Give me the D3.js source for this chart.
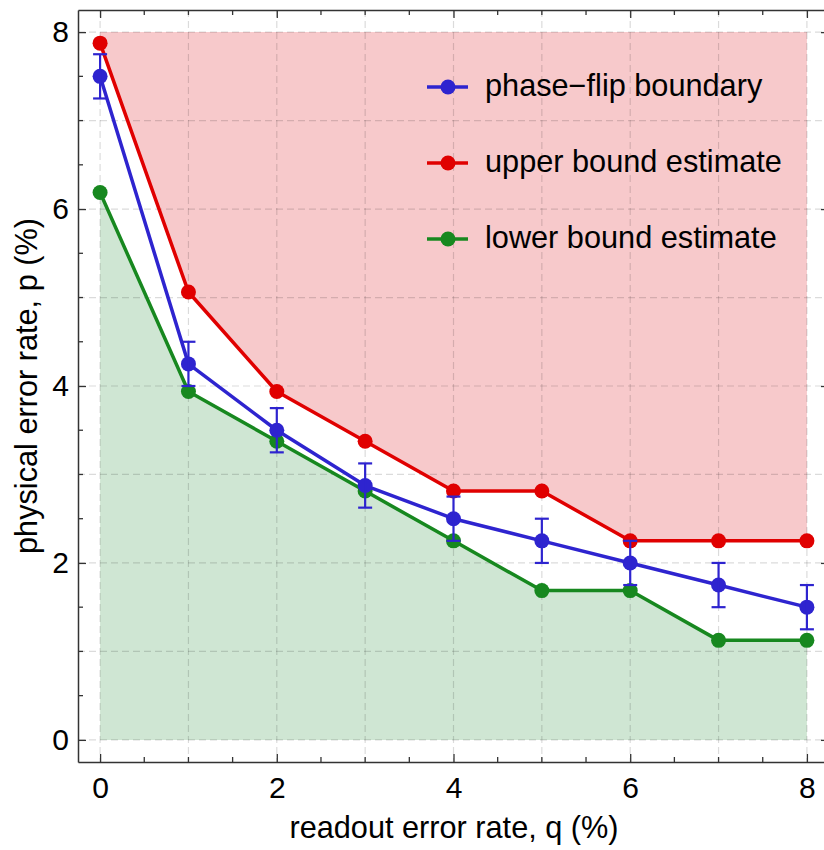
<!DOCTYPE html>
<html>
<head>
<meta charset="utf-8">
<script src="https://cdn.jsdelivr.net/npm/d3@7"></script>
<style>
  body { margin: 0; background: #fff; }
  text { font-family: "Liberation Sans", Arial, sans-serif; fill: #000; }
</style>
</head>
<body>
<div class="chart"></div>
<script>
var svgWidth = 824;
var svgHeight = 850;

// readout error rate q (%)
var readoutRates = [0, 1, 2, 3, 4, 5, 6, 7, 8];
// physical error rate p (%) for each series
var phaseFlip = [7.5, 4.25, 3.5, 2.875, 2.5, 2.25, 2.0, 1.75, 1.5];
var phaseFlipErr = [0.25, 0.25, 0.25, 0.25, 0.25, 0.25, 0.25, 0.25, 0.25];
var upperBound = [7.875, 5.0625, 3.9375, 3.375, 2.8125, 2.8125, 2.25, 2.25, 2.25];
var lowerBound = [6.1875, 3.9375, 3.375, 2.8125, 2.25, 1.6875, 1.6875, 1.125, 1.125];

var seriesNames = ["phase\u2212flip boundary", "upper bound estimate", "lower bound estimate"];
var seriesColors = ["#2e24cf", "#e00000", "#17881f"];

var majorTicks = [0, 2, 4, 6, 8];
var minorTicks = [0.5, 1, 1.5, 2.5, 3, 3.5, 4.5, 5, 5.5, 6.5, 7, 7.5];
var gridTicks = [0, 1, 2, 3, 4, 5, 6, 7, 8];
var pMax = 8;

var plot = { left: 78, right: 829, top: 10, bottom: 762 };

var svg = d3.select(".chart")
  .append("svg")
  .attr("width", svgWidth)
  .attr("height", svgHeight);

var xScale = d3.scaleLinear()
  .domain([-0.25, 8.25])
  .range([plot.left, plot.right]);

var yScale = d3.scaleLinear()
  .domain([-0.25, 8.25])
  .range([plot.bottom, plot.top]);

var upperData = readoutRates.map(function(q, i) { return { q: q, p: upperBound[i] }; });
var lowerData = readoutRates.map(function(q, i) { return { q: q, p: lowerBound[i] }; });
var flipData = readoutRates.map(function(q, i) { return { q: q, p: phaseFlip[i], e: phaseFlipErr[i] }; });

// shaded regions
svg.append("path")
  .datum(upperData)
  .attr("fill", "#f7c9cb")
  .attr("d", d3.area()
    .x(function(d) { return xScale(d.q); })
    .y0(yScale(pMax))
    .y1(function(d) { return yScale(d.p); }));

svg.append("path")
  .datum(lowerData)
  .attr("fill", "#cfe6d3")
  .attr("d", d3.area()
    .x(function(d) { return xScale(d.q); })
    .y0(yScale(0))
    .y1(function(d) { return yScale(d.p); }));

// dashed grid
var grid = svg.append("g")
  .attr("stroke", "rgba(0,0,0,0.14)")
  .attr("stroke-width", 1.2)
  .attr("stroke-dasharray", "7,4");

grid.selectAll(".vgrid")
  .data(gridTicks)
  .enter().append("line")
    .attr("x1", function(d) { return xScale(d); })
    .attr("x2", function(d) { return xScale(d); })
    .attr("y1", plot.top)
    .attr("y2", plot.bottom);

grid.selectAll(".hgrid")
  .data(gridTicks)
  .enter().append("line")
    .attr("y1", function(d) { return yScale(d); })
    .attr("y2", function(d) { return yScale(d); })
    .attr("x1", plot.left)
    .attr("x2", plot.right);

// axes on all four sides, ticks pointing inward
function styleAxis(g) {
  g.select(".domain").attr("stroke", "#333").attr("stroke-width", 1.5);
  g.selectAll(".tick line").attr("stroke", "#333").attr("stroke-width", 1.3);
  g.selectAll("text").style("font-size", "30px").attr("fill", "#000");
}

var bottomAxis = d3.axisBottom(xScale).tickValues(majorTicks).tickSizeInner(-8).tickSizeOuter(0).tickPadding(15);
var leftAxis = d3.axisLeft(yScale).tickValues(majorTicks).tickSizeInner(-8).tickSizeOuter(0).tickPadding(9);

svg.append("g")
  .attr("transform", "translate(0," + plot.bottom + ")")
  .call(bottomAxis)
  .call(styleAxis);

svg.append("g")
  .attr("transform", "translate(" + plot.left + ",0)")
  .call(leftAxis)
  .call(styleAxis);

svg.append("g")
  .attr("transform", "translate(0," + plot.top + ")")
  .call(d3.axisTop(xScale).tickValues(majorTicks).tickSizeInner(-8).tickSizeOuter(0).tickFormat(""))
  .call(styleAxis);

svg.append("g")
  .attr("transform", "translate(" + plot.right + ",0)")
  .call(d3.axisRight(yScale).tickValues(majorTicks).tickSizeInner(-8).tickSizeOuter(0).tickFormat(""))
  .call(styleAxis);

// minor ticks
var minor = svg.append("g").attr("stroke", "#333").attr("stroke-width", 1.3);
minor.selectAll(".mb").data(minorTicks).enter().append("line")
  .attr("x1", function(d) { return xScale(d); }).attr("x2", function(d) { return xScale(d); })
  .attr("y1", plot.bottom).attr("y2", plot.bottom - 5);
minor.selectAll(".mt").data(minorTicks).enter().append("line")
  .attr("x1", function(d) { return xScale(d); }).attr("x2", function(d) { return xScale(d); })
  .attr("y1", plot.top).attr("y2", plot.top + 5);
minor.selectAll(".ml").data(minorTicks).enter().append("line")
  .attr("y1", function(d) { return yScale(d); }).attr("y2", function(d) { return yScale(d); })
  .attr("x1", plot.left).attr("x2", plot.left + 5);
minor.selectAll(".mr").data(minorTicks).enter().append("line")
  .attr("y1", function(d) { return yScale(d); }).attr("y2", function(d) { return yScale(d); })
  .attr("x1", plot.right).attr("x2", plot.right - 5);

// series lines + markers
var line = d3.line()
  .x(function(d) { return xScale(d.q); })
  .y(function(d) { return yScale(d.p); });

function drawSeries(data, color) {
  svg.append("path")
    .datum(data)
    .attr("fill", "none")
    .attr("stroke", color)
    .attr("stroke-width", 3.5)
    .attr("stroke-linejoin", "round")
    .attr("d", line);

  svg.append("g").selectAll("circle")
    .data(data)
    .enter().append("circle")
      .attr("cx", function(d) { return xScale(d.q); })
      .attr("cy", function(d) { return yScale(d.p); })
      .attr("r", 7.5)
      .attr("fill", color);
}

drawSeries(lowerData, seriesColors[2]);
drawSeries(upperData, seriesColors[1]);
drawSeries(flipData, seriesColors[0]);

// error bars on the phase-flip boundary
var errG = svg.append("g")
  .attr("stroke", seriesColors[0])
  .attr("stroke-width", 2.2);

errG.selectAll(".ev").data(flipData).enter().append("line")
  .attr("x1", function(d) { return xScale(d.q); })
  .attr("x2", function(d) { return xScale(d.q); })
  .attr("y1", function(d) { return yScale(d.p - d.e); })
  .attr("y2", function(d) { return yScale(d.p + d.e); });

errG.selectAll(".et").data(flipData).enter().append("line")
  .attr("x1", function(d) { return xScale(d.q) - 7; })
  .attr("x2", function(d) { return xScale(d.q) + 7; })
  .attr("y1", function(d) { return yScale(d.p + d.e); })
  .attr("y2", function(d) { return yScale(d.p + d.e); });

errG.selectAll(".eb").data(flipData).enter().append("line")
  .attr("x1", function(d) { return xScale(d.q) - 7; })
  .attr("x2", function(d) { return xScale(d.q) + 7; })
  .attr("y1", function(d) { return yScale(d.p - d.e); })
  .attr("y2", function(d) { return yScale(d.p - d.e); });

// legend
var legend = svg.append("g")
  .selectAll("g")
  .data(seriesNames)
  .enter().append("g")
    .attr("transform", function(d, i) { return "translate(0," + (87 + i * 76) + ")"; });

legend.append("line")
  .attr("x1", 427).attr("x2", 468)
  .attr("stroke", function(d, i) { return seriesColors[i]; })
  .attr("stroke-width", 3.5);

legend.append("circle")
  .attr("cx", 448)
  .attr("r", 7.5)
  .attr("fill", function(d, i) { return seriesColors[i]; });

legend.append("text")
  .attr("x", 485)
  .attr("y", 9)
  .style("font-size", "30.7px")
  .text(function(d) { return d; });

// axis titles
svg.append("text")
  .attr("x", 454)
  .attr("y", 838)
  .attr("text-anchor", "middle")
  .style("font-size", "30.7px")
  .text("readout error rate, q (%)");

svg.append("text")
  .attr("transform", "translate(37," + ((plot.top + plot.bottom) / 2) + ") rotate(-90)")
  .attr("text-anchor", "middle")
  .style("font-size", "30.7px")
  .text("physical error rate, p (%)");
</script>
</body>
</html>
